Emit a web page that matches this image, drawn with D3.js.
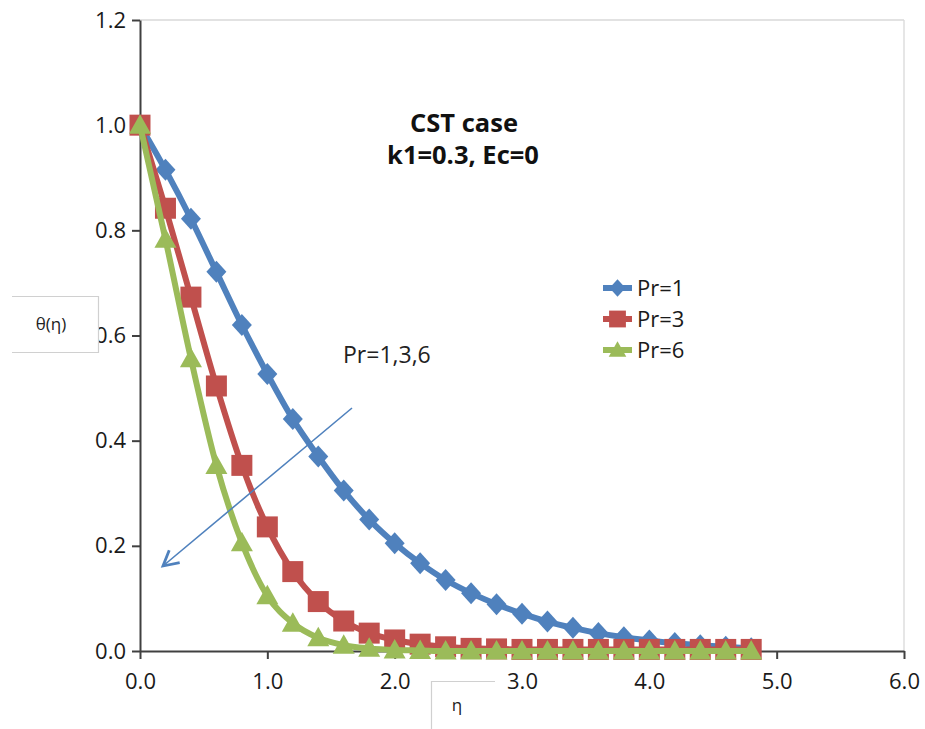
<!DOCTYPE html>
<html>
<head>
<meta charset="utf-8">
<script src="https://cdn.jsdelivr.net/npm/d3@7"></script>
<style>
  body { margin: 0; background: #fff; }
  svg { display: block; }
  text { font-family: "Open Sans", "Liberation Sans", sans-serif; }
</style>
</head>
<body>
<svg id="chart" width="925" height="729"></svg>
<script>
// ---- Data ----
const eta = [0.0, 0.2, 0.4, 0.6, 0.8, 1.0, 1.2, 1.4, 1.6, 1.8, 2.0, 2.2, 2.4, 2.6, 2.8, 3.0, 3.2, 3.4, 3.6, 3.8, 4.0, 4.2, 4.4, 4.6, 4.8];
const pr1 = [1.0, 0.915, 0.822, 0.721, 0.62, 0.527, 0.441, 0.37, 0.305, 0.25, 0.205, 0.167, 0.135, 0.11, 0.089, 0.071, 0.056, 0.044, 0.034, 0.026, 0.02, 0.015, 0.011, 0.008, 0.005];
const pr3 = [1.0, 0.842, 0.673, 0.504, 0.353, 0.236, 0.151, 0.094, 0.057, 0.034, 0.021, 0.013, 0.008, 0.005, 0.004, 0.003, 0.003, 0.003, 0.003, 0.003, 0.003, 0.003, 0.003, 0.003, 0.003];
const pr6 = [1.0, 0.783, 0.556, 0.353, 0.206, 0.105, 0.053, 0.025, 0.011, 0.005, 0.002, 0.001, 0.0, 0.0, 0.0, 0.0, 0.0, 0.0, 0.0, 0.0, 0.0, 0.0, 0.0, 0.0, 0.0];
const seriesNames = ["Pr=1", "Pr=3", "Pr=6"];
const xTicks = [0, 1, 2, 3, 4, 5, 6];
const yTicks = [0, 0.2, 0.4, 0.6, 0.8, 1.0, 1.2];
const titleLines = ["CST case", "k1=0.3, Ec=0"];
const annotation = "Pr=1,3,6";
const xLabel = "η";
const yLabel = "θ(η)";

const colors = ["#4F81BD", "#C0504D", "#9BBB59"];
const shapes = ["diamond", "square", "triangle"];

const svg = d3.select("#chart");
const L = 140, R = 904, T = 20, B = 651;
const x = d3.scaleLinear().domain([0, 6]).range([L, R]);
const y = d3.scaleLinear().domain([0, 1.2]).range([B, T]);

// plot area border (top & right light gray)
svg.append("line").attr("x1", L).attr("x2", R).attr("y1", T).attr("y2", T).attr("stroke", "#d9d9d9").attr("stroke-width", 1.3);
svg.append("line").attr("x1", R).attr("x2", R).attr("y1", T).attr("y2", B).attr("stroke", "#d9d9d9").attr("stroke-width", 1.3);

// axes
const xAxis = svg.append("g").attr("transform", `translate(0,${B})`)
  .call(d3.axisBottom(x).tickValues(xTicks).tickFormat(d3.format(".1f")).tickSize(8).tickSizeOuter(0).tickPadding(14));
const yAxis = svg.append("g").attr("transform", `translate(${L},0)`)
  .call(d3.axisLeft(y).tickValues(yTicks).tickFormat(d3.format(".1f")).tickSize(8).tickSizeOuter(0).tickPadding(6));
[xAxis, yAxis].forEach(g => {
  g.select(".domain").attr("stroke", "#404040").attr("stroke-width", 2);
  g.selectAll(".tick line").attr("stroke", "#404040").attr("stroke-width", 2);
  g.selectAll(".tick text").attr("font-size", 22).attr("fill", "#1a1a1a")
    .attr("font-family", "'Open Sans', sans-serif");
});
xAxis.selectAll(".tick text").attr("dy", "0.71em");

// series
const data = [pr1, pr3, pr6];
const line = d3.line().x((d, i) => x(eta[i])).y(d => y(d)).curve(d3.curveMonotoneX);

function markerPath(shape) {
  if (shape === "diamond") return "M0,-11L10,0L0,11L-10,0Z";
  if (shape === "square") return "M-10.5,-10.5H10.5V10.5H-10.5Z";
  return "M0,-11L11,8.5L-11,8.5Z";
}

data.forEach((vals, si) => {
  const g = svg.append("g");
  g.append("path").datum(vals).attr("d", line).attr("fill", "none")
    .attr("stroke", colors[si]).attr("stroke-width", 6).attr("stroke-linejoin", "round");
  g.selectAll("path.m").data(vals).enter().append("path").attr("class", "m")
    .attr("d", markerPath(shapes[si]))
    .attr("transform", (d, i) => `translate(${x(eta[i])},${y(d)})`)
    .attr("fill", colors[si]);
});

// title
svg.append("text").attr("x", 464).attr("y", 132).attr("text-anchor", "middle")
  .attr("font-family", "'Liberation Sans', Arial, sans-serif").attr("font-weight", "bold").attr("font-size", 25.5).attr("fill", "#111")
  .text(titleLines[0]);
svg.append("text").attr("x", 463).attr("y", 164).attr("text-anchor", "middle")
  .attr("font-family", "'Liberation Sans', Arial, sans-serif").attr("font-weight", "bold").attr("font-size", 25.5).attr("fill", "#111")
  .text(titleLines[1]);

// annotation and arrow
svg.append("text").attr("x", 343).attr("y", 363).attr("font-size", 23).attr("fill", "#222").text(annotation);
const ax1 = 352, ay1 = 408, ax2 = 163, ay2 = 566;
svg.append("line").attr("x1", ax1).attr("y1", ay1).attr("x2", ax2).attr("y2", ay2)
  .attr("stroke", "#4F81BD").attr("stroke-width", 1.6);
const ang = Math.atan2(ay2 - ay1, ax2 - ax1);
const hl = 17, spread = 0.5;
const p1 = [ax2 - hl * Math.cos(ang - spread), ay2 - hl * Math.sin(ang - spread)];
const p2 = [ax2 - hl * Math.cos(ang + spread), ay2 - hl * Math.sin(ang + spread)];
svg.append("path").attr("d", `M${p1[0]},${p1[1]}L${ax2},${ay2}L${p2[0]},${p2[1]}`)
  .attr("fill", "none").attr("stroke", "#4F81BD").attr("stroke-width", 2.8).attr("stroke-linejoin", "miter");

// legend
const legY = [288, 319, 350];
seriesNames.forEach((name, i) => {
  const g = svg.append("g");
  g.append("line").attr("x1", 603).attr("x2", 632).attr("y1", legY[i]).attr("y2", legY[i])
    .attr("stroke", colors[i]).attr("stroke-width", 6);
  g.append("path").attr("d", markerPath(shapes[i])).attr("transform", `translate(617.5,${legY[i]}) scale(0.8)`).attr("fill", colors[i]);
  g.append("text").attr("x", 637).attr("y", legY[i] + 8).attr("font-size", 22).attr("fill", "#1a1a1a").text(name);
});

// y label box (white background, top/right/bottom edges)
svg.append("rect").attr("x", 12).attr("y", 296).attr("width", 86).attr("height", 56).attr("fill", "#fff");
svg.append("path").attr("d", "M12,296.5H98.5V352.5H12").attr("fill", "none").attr("stroke", "#d0d0d0").attr("stroke-width", 1.2);
svg.append("text").attr("x", 51).attr("y", 330).attr("text-anchor", "middle").attr("font-size", 17).attr("fill", "#222").text(yLabel);

// x label box (top/left edges)
svg.append("rect").attr("x", 431).attr("y", 681).attr("width", 64).attr("height", 60).attr("fill", "#fff");
svg.append("path").attr("d", "M431.5,729V681.5H495").attr("fill", "none").attr("stroke", "#d0d0d0").attr("stroke-width", 1.2);
svg.append("text").attr("x", 457).attr("y", 711).attr("text-anchor", "middle").attr("font-size", 17).attr("fill", "#222").text(xLabel);
</script>
</body>
</html>
